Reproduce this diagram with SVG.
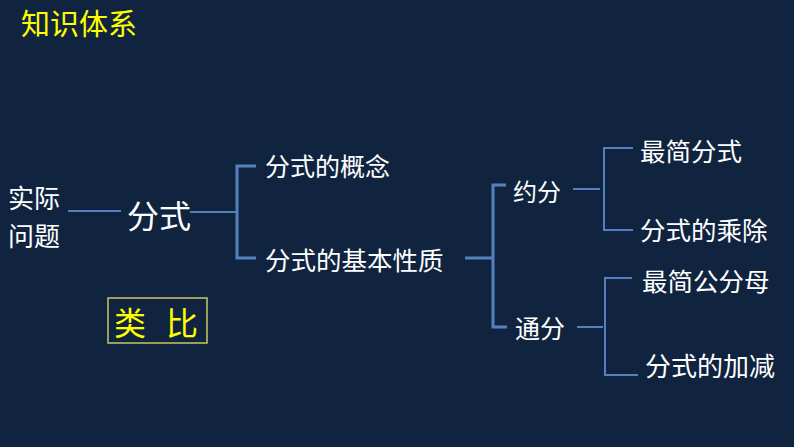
<svg xmlns="http://www.w3.org/2000/svg" width="794" height="447" viewBox="0 0 794 447">
<style>
.t{font-family:"Noto Sans CJK SC","Noto Sans",sans-serif;fill:#ffffff}
.y{font-family:"Noto Sans CJK SC","Noto Sans",sans-serif;fill:#ffff00}
.c{fill:none;stroke:#5580c0;stroke-width:3}
.c2{fill:none;stroke:#5580c0;stroke-width:2}
</style>
<rect width="794" height="447" fill="#10243f"/>
<g id="title"><text class="y" x="21" y="35" font-size="29">知识体系</text></g>
<g id="n-shiji"><text class="t" x="8" y="208" font-size="26">实际</text><text class="t" x="8" y="246" font-size="26">问题</text></g>
<g id="n-fenshi"><text class="t" x="127" y="228" font-size="32">分式</text></g>
<g id="n-gainian"><text class="t" x="265" y="176" font-size="25">分式的概念</text></g>
<g id="n-xingzhi"><text class="t" x="265" y="270" font-size="25.5">分式的基本性质</text></g>
<g id="n-yuefen"><text class="t" x="513" y="201" font-size="24">约分</text></g>
<g id="n-tongfen"><text class="t" x="515" y="338" font-size="25">通分</text></g>
<g id="n-zuijian"><text class="t" x="640" y="161" font-size="25.5">最简分式</text></g>
<g id="n-chengchu"><text class="t" x="640" y="240" font-size="25.5">分式的乘除</text></g>
<g id="n-gongfenmu"><text class="t" x="642" y="291" font-size="25.5">最简公分母</text></g>
<g id="n-jiajian"><text class="t" x="645" y="376" font-size="26">分式的加减</text></g>
<g id="n-leibi"><rect x="108" y="298" width="99" height="45" fill="none" stroke="#c8c860" stroke-width="1.5"/><text class="y" x="114" y="335" font-size="32">类<tspan x="166">比</tspan></text></g>
<g id="connectors">
<line class="c2" x1="68" y1="211" x2="121" y2="211"/>
<line class="c2" x1="190" y1="212" x2="237" y2="212"/>
<polyline class="c" points="256,166 237,166 237,258 256,258"/>
<line class="c" x1="465" y1="258" x2="493" y2="258"/>
<polyline class="c" points="506,185 493,185 493,327 507,327"/>
<line class="c2" x1="573" y1="189" x2="600" y2="189"/>
<polyline class="c2" points="633,148 604,148 604,230 633,230"/>
<line class="c2" x1="577" y1="327" x2="603" y2="327"/>
<polyline class="c2" points="632,278 605,278 605,375 638,375"/>
</g>
</svg>
